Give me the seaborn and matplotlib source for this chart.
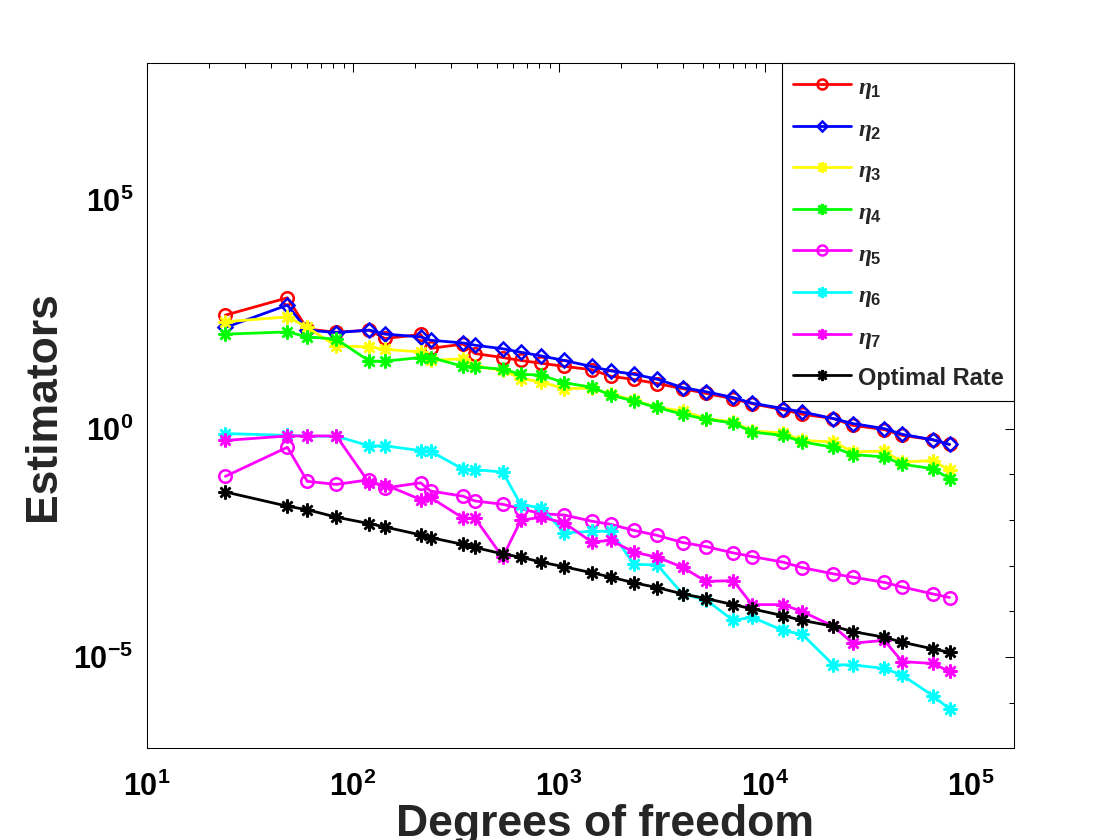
import numpy as np
import matplotlib
matplotlib.use("Agg")
import matplotlib.pyplot as plt
import seaborn as sns
from matplotlib.ticker import FixedLocator, FuncFormatter, LogLocator, NullFormatter

# degrees of freedom (x) and estimator values
dofs = [24, 48, 60, 83, 120, 143, 213, 238, 343, 391, 533, 653, 820, 1062, 1440,
        1786, 2314, 2996, 3983, 5175, 7006, 8663, 12237, 15210, 21474, 26681,
        37946, 46418, 65297, 78727]

eta1 = [305, 731, 151, 129, 143, 94, 115, 57, 71, 44, 36, 31, 27, 23, 19.5,
        14, 11.9, 9.7, 7.5, 5.9, 4.5, 3.5, 2.6, 2.06, 1.66, 1.18, 0.95, 0.71, 0.57, 0.45]
eta2 = [164, 506, 143, 127, 143, 117, 102, 86, 75, 67, 56, 47, 39, 31, 22.9,
        18.3, 15.5, 12.1, 7.9, 6.4, 4.8, 3.6, 2.75, 2.31, 1.66, 1.29, 1.0, 0.75, 0.57, 0.45]
eta3 = [218, 280, 164, 64, 62, 54, 48, 31, 34, 23, 19, 12.5, 10.5, 7.5, 7.7,
        5.65, 4.2, 2.9, 2.43, 1.66, 1.40, 0.89, 0.80, 0.55, 0.51, 0.31, 0.32, 0.185, 0.20, 0.122]
eta4 = [117, 131, 102, 91, 30, 30, 36, 36, 23, 22.4, 20, 15.5, 14.8, 10.1, 8.05,
        5.4, 4.0, 2.9, 2.06, 1.60, 1.33, 0.84, 0.71, 0.51, 0.39, 0.27, 0.24, 0.165, 0.133, 0.080]
eta5 = [0.090, 0.39, 0.070, 0.060, 0.076, 0.050, 0.065, 0.043, 0.033, 0.026, 0.022,
        0.0176, 0.0137, 0.0128, 0.0094, 0.0080, 0.0059, 0.0046, 0.0032, 0.0026, 0.0019,
        0.00158, 0.00119, 0.00090, 0.00066, 0.00056, 0.00043, 0.00034, 0.00024, 0.00020]
eta6 = [0.78, 0.71, 0.68, 0.68, 0.42, 0.42, 0.33, 0.32, 0.128, 0.126, 0.112, 0.0216,
        0.0185, 0.0052, 0.0056, 0.0057, 0.00106, 0.00104, 0.00024, 0.000178, 6.3e-5,
        7.4e-5, 3.8e-5, 3.1e-5, 6.7e-6, 6.7e-6, 5.6e-6, 4.0e-6, 1.42e-6, 7.2e-7]
eta7 = [0.55, 0.69, 0.69, 0.69, 0.064, 0.059, 0.028, 0.031, 0.0109, 0.0109, 0.00153,
        0.0098, 0.0115, 0.0086, 0.0033, 0.00355, 0.00197, 0.00153, 0.00092, 0.00045,
        0.00047, 0.00014, 0.00014, 9.8e-5, 4.7e-5, 2.0e-5, 2.3e-5, 7.9e-6, 7.2e-6, 4.8e-6]
optimal = [0.041, 0.020, 0.0167, 0.0115, 0.0083, 0.0070, 0.0047, 0.0041, 0.0029,
           0.0025, 0.0018, 0.00153, 0.00119, 0.00094, 0.00070, 0.00056, 0.00042,
           0.00033, 0.00024, 0.00019, 0.00014, 0.000113, 8.0e-5, 6.3e-5, 4.7e-5,
           3.6e-5, 2.7e-5, 2.1e-5, 1.5e-5, 1.26e-5]

labels = [r"$\eta_{\mathbf{1}}$", r"$\eta_{\mathbf{2}}$", r"$\eta_{\mathbf{3}}$",
          r"$\eta_{\mathbf{4}}$", r"$\eta_{\mathbf{5}}$", r"$\eta_{\mathbf{6}}$",
          r"$\eta_{\mathbf{7}}$", "Optimal Rate"]

sns.set_style("white")
plt.rcParams["font.family"] = ["Liberation Sans", "DejaVu Sans"]
plt.rcParams["font.weight"] = "bold"
plt.rcParams["mathtext.fontset"] = "custom"
plt.rcParams["mathtext.rm"] = "Liberation Sans:bold"
plt.rcParams["mathtext.bf"] = "Liberation Sans:bold"
plt.rcParams["mathtext.it"] = "Liberation Serif:italic"

fig = plt.figure(figsize=(11.2, 8.4), dpi=100)
ax = fig.add_axes([0.1313, 0.1092, 0.7741, 0.8155])
ax.set_xscale("log")
ax.set_yscale("log")

star = (8, 2, 0)  # matlab-like asterisk
styles = [("#ff0000", "o", 9), ("#0000ff", "D", 7), ("#ffff00", star, 10),
          ("#00ff00", star, 10), ("#ff00ff", "o", 9), ("#00ffff", star, 10),
          ("#ff00ff", star, 10), ("#000000", star, 10)]
series = [eta1, eta2, eta3, eta4, eta5, eta6, eta7, optimal]

for vals, (col, mk, ms), lab in zip(series, styles, labels):
    sns.lineplot(x=dofs, y=vals, ax=ax, color=col, lw=2, marker=mk, markersize=ms,
                 markerfacecolor="none", markeredgecolor=col, markeredgewidth=1.8,
                 label=lab)

ax.set_xlim(10, 1.62e5)
ax.set_ylim(1e-7, 1e8)

ax.xaxis.set_major_locator(LogLocator(base=10, numticks=10))
ax.xaxis.set_minor_locator(LogLocator(base=10, subs=np.arange(2, 10), numticks=20))
ax.yaxis.set_major_locator(FixedLocator([1e-5, 1e0, 1e5]))
ax.yaxis.set_minor_locator(FixedLocator([10.0 ** k for k in range(-7, 9)]))
fmt = FuncFormatter(lambda v, p: r"$\mathbf{10^{%d}}$" % round(np.log10(v)))
ax.xaxis.set_major_formatter(fmt)
ax.yaxis.set_major_formatter(fmt)
ax.xaxis.set_minor_formatter(NullFormatter())
ax.yaxis.set_minor_formatter(NullFormatter())

ax.tick_params(which="both", direction="in", top=True, right=True, width=0.75,
               colors="black", labelsize=22)
ax.tick_params(which="major", length=6.5)
ax.tick_params(which="minor", length=3.3)
ax.tick_params(axis="x", pad=17)
ax.tick_params(axis="y", pad=10)
for s in ax.spines.values():
    s.set_color("black")
    s.set_linewidth(0.75)

ax.set_xlabel("Degrees of freedom", fontsize=32, fontweight="bold")
ax.set_ylabel("Estimators", fontsize=32, fontweight="bold")
ax.xaxis.set_label_coords(0.528, -0.081)
ax.yaxis.set_label_coords(-0.096, 0.5)

leg = ax.legend(loc="upper right", borderaxespad=0, fancybox=False, edgecolor="black",
                framealpha=1, prop={"size": 17, "weight": "bold"}, handlelength=2.45,
                handleheight=1.25, handletextpad=0.3, borderpad=0.45, labelspacing=0.6,
                markerscale=0.8)
leg.get_frame().set_linewidth(0.8)

fig.savefig("out.png", dpi=100)
plt.close(fig)
